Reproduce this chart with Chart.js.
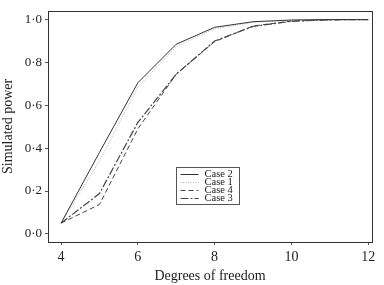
<!DOCTYPE html>
<html><head><meta charset="utf-8">
<script src="https://cdn.jsdelivr.net/npm/chart.js@4/dist/chart.umd.min.js"></script>
<style>html,body{margin:0;padding:0;background:#fff}#w{width:384px;height:285px}</style>
</head><body><div id="w"><canvas id="c"></canvas></div>
<script>
const dof = [4,5,6,7,8,9,10,11,12];
const case2 = [0.05,0.38,0.705,0.885,0.964,0.99,0.998,1.0,1.0];
const case1 = [0.05,0.34,0.685,0.874,0.957,0.987,0.997,1.0,1.0];
const case4 = [0.05,0.137,0.49,0.745,0.897,0.97,0.993,0.999,1.0];
const case3 = [0.05,0.188,0.52,0.745,0.9,0.968,0.992,0.999,1.0];
const xTicks = [4,6,8,10,12];
const yTicks = [0,0.2,0.4,0.6,0.8,1.0];
const seriesNames = ['Case 2','Case 1','Case 4','Case 3'];

const pts = a => a.map((v,i)=>({x:dof[i],y:v}));
const F = 'Liberation Serif, Times New Roman, serif';

const frame = {
  id:'frame',
  afterDraw(ch){
    const {ctx,chartArea:a}=ch;
    ctx.save();
    ctx.strokeStyle='#333';ctx.lineWidth=1;
    ctx.strokeRect(Math.round(a.left)+0.5,Math.round(a.top)+0.5,Math.round(a.right-a.left),Math.round(a.bottom-a.top));
    // legend
    const x0=176.5,y0=167.5,w=63,h=37;
    ctx.fillStyle='#fff';ctx.fillRect(x0,y0,w,h);
    ctx.strokeStyle='#555';ctx.strokeRect(x0,y0,w,h);
    ctx.font='10.5px '+F;ctx.textBaseline='middle';ctx.fillStyle='#222';
    ch.data.datasets.forEach((d,i)=>{
      const y=Math.round(y0+6+i*8)+0.5;
      ctx.strokeStyle=d.borderColor;ctx.lineWidth=d.borderWidth;
      ctx.setLineDash(d.borderDash||[]);
      ctx.beginPath();ctx.moveTo(x0+4,y);ctx.lineTo(x0+22,y);ctx.stroke();
      ctx.setLineDash([]);
      ctx.fillText(d.label,x0+28,y);
    });
    ctx.restore();
  }
};

new Chart(document.getElementById('c'),{
  type:'line',
  data:{datasets:[
    {label:seriesNames[0],data:pts(case2),borderColor:'#333',borderWidth:1,pointRadius:0,tension:0},
    {label:seriesNames[1],data:pts(case1),borderColor:'#aaa',borderWidth:1,borderDash:[1,1.5],pointRadius:0,tension:0},
    {label:seriesNames[2],data:pts(case4),borderColor:'#444',borderWidth:1,borderDash:[5,3],pointRadius:0,tension:0},
    {label:seriesNames[3],data:pts(case3),borderColor:'#444',borderWidth:1.2,borderDash:[8,2,2,2],pointRadius:0,tension:0}
  ]},
  options:{
    responsive:true,maintainAspectRatio:false,animation:false,
    layout:{padding:{top:5,right:12,left:0,bottom:0}},
    plugins:{legend:{display:false},tooltip:{enabled:false}},
    scales:{
      x:{type:'linear',min:3.66,max:12.1,
        afterBuildTicks:s=>{s.ticks=xTicks.map(v=>({value:v}));},
        afterFit:s=>{s.height=43;},
        grid:{display:true,drawOnChartArea:false,drawTicks:true,tickLength:3,color:'#555'},
        border:{display:false},
        ticks:{color:'#222',font:{family:F,size:14},padding:4,callback:v=>String(v)},
        title:{display:true,text:'Degrees of freedom',color:'#222',font:{family:F,size:14},padding:{top:7,bottom:0}}
      },
      y:{min:-0.038,max:1.041,
        afterBuildTicks:s=>{s.ticks=yTicks.map(v=>({value:v}));},
        afterFit:s=>{s.width=48;},
        grid:{display:true,drawOnChartArea:false,tickLength:3,color:'#555'},
        border:{display:false},
        ticks:{color:'#222',font:{family:F,size:13},padding:3,callback:v=>v.toFixed(1).replace('.','·')},
        title:{display:true,text:'Simulated power',color:'#222',font:{family:F,size:14},padding:{top:0,bottom:2}}
      }
    }
  },
  plugins:[frame]
});
</script></body></html>
